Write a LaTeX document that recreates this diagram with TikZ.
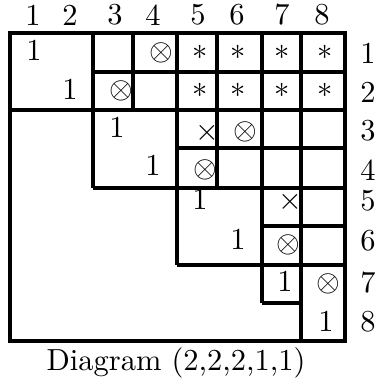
\documentclass[tikz,border=0pt]{standalone}
\usepackage{amsmath}
\usetikzlibrary{positioning}

\begin{document}
\begin{tikzpicture}[
    x=0.328pt, y=-0.328pt,
    font={\normalsize},
    entry/.style={inner sep=0pt},
    index/.style={inner sep=0pt},
    rule/.style={line width=1pt},
    heavyrule/.style={line width=1.2pt},
]
    \useasboundingbox (0,0) rectangle (375,383);

    % column and row indices
    \foreach \x [count=\i] in {33,70,115,153,198,237,282,322}
        \node[index] (col\i) at (\x,15) {\i};
    \foreach \y [count=\i] in {53,92,131,170,201,241,283,322}
        \node[index] (row\i) at (368,\y) {\i};

    % frame
    \draw[rule] (10,33) rectangle (345,341);

    % horizontal rules
    \draw[rule] ( 93, 72) -- (345, 72);
    \draw[rule] ( 10,110) -- (345,110);
    \draw[heavyrule] (177,148) -- (345,148);
    \draw[rule] ( 93,188) -- (345,188);
    \draw[heavyrule] (262,226) -- (345,226);
    \draw[rule] (177,265) -- (345,265);
    \draw[rule] (262,303) -- (301,303);

    % vertical rules
    \draw[rule] ( 93,33) -- ( 93,188);
    \draw[rule] (133,33) -- (133,110);
    \draw[rule] (177,33) -- (177,265);
    \draw[rule] (217,33) -- (217,188);
    \draw[rule] (262,33) -- (262,303);
    \draw[rule] (301,33) -- (301,341);

    % diagonal blocks
    \node[entry] (b11) at ( 34, 51) {$1$};
    \node[entry] (b22) at ( 70, 90) {$1$};
    \node[entry] (b33) at (117,128) {$1$};
    \node[entry] (b44) at (153,166) {$1$};
    \node[entry] (b55) at (200,200) {$1$};
    \node[entry] (b66) at (238,240) {$1$};
    \node[entry] (b77) at (285,282) {$1$};
    \node[entry] (b88) at (326,322) {$1$};

    % marked cells
    \node[entry] (m14) at (161, 53) {$\otimes$};
    \node[entry] (m23) at (121, 91) {$\otimes$};
    \node[entry] (m35) at (207,133) {$\times$};
    \node[entry] (m36) at (245,132) {$\otimes$};
    \node[entry] (m45) at (205,170) {$\otimes$};
    \node[entry] (m57) at (290,202) {$\times$};
    \node[entry] (m67) at (288,245) {$\otimes$};
    \node[entry] (m78) at (328,284) {$\otimes$};

    % starred cells
    \foreach \x [count=\j from 5] in {200,238,282,325} {
        \node[entry] (s1\j) at (\x,52) {$*$};
        \node[entry] (s2\j) at (\x,90) {$*$};
    }

    \node[anchor=base] (caption) at (176,370) {Diagram (2,2,2,1,1)};

\end{tikzpicture}
\end{document}
